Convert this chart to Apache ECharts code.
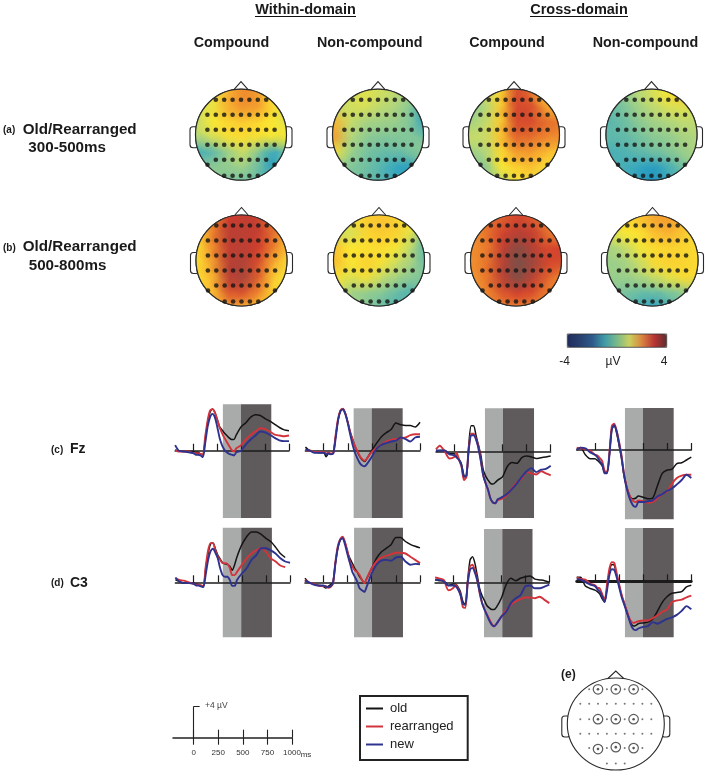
<!DOCTYPE html>
<html><head><meta charset="utf-8">
<style>html,body{margin:0;padding:0;background:#fff}#c{width:709px;height:778px}</style>
<script src="https://cdn.jsdelivr.net/npm/echarts@6/dist/echarts.min.js"></script>
</head><body><div id="c"></div>
<script>
// ---------- ERP sample times (ms) ----------
const timesMs=[-190,-150,-100,-50,0,25,50,75,100,125,150,175,200,225,250,275,300,325,350,375,400,425,450,500,550,600,650,700,750,800,850,900,950,1000];
// ---------- ERP amplitudes (µV), Fz ----------
const fzWC_old=[.1,0,-.1,-.1,-.1,-.2,-.2,-.4,-.5,1.5,3.5,4.8,5.2,4.8,3.9,3.0,2.6,2.2,1.9,1.6,1.4,1.4,2.0,3.0,3.5,4.2,4.5,4.4,4.0,3.7,3.3,2.9,2.6,2.5];
const fzWC_rea=[0,-.1,-.1,-.1,-.3,-.3,-.3,-.4,-.5,1.8,3.8,5.0,5.2,4.8,3.9,2.9,2.2,1.6,1.1,.6,.1,-.1,.3,.7,1.4,2.0,2.4,2.8,2.7,2.4,2.0,1.9,1.8,1.9];
const fzWC_new=[.7,0,-.1,-.2,-.3,-.5,-.5,-.6,-.8,1.0,3.0,4.2,4.6,4.2,3.0,1.6,.7,.1,-.2,-.4,-.5,-.6,-.2,0,.8,1.4,1.9,2.4,2.3,2.0,1.6,1.3,1.2,1.2];
const fzWN_old=[.4,0,-.2,-.3,-.3,-.8,-.4,-.5,-.3,1.8,3.8,5.0,5.2,4.6,3.5,2.3,1.4,.5,-.2,-.8,-1.2,-1.4,-1.0,0,.9,1.7,2.2,2.6,3.4,3.2,3.1,3.1,2.9,3.5];
const fzWN_rea=[0,0,-.2,-.2,-.2,-.4,-.3,-.4,-.3,2,4,5,5.2,4.6,3.5,2.3,1.3,.5,-.1,-.7,-1.1,-1.3,-1.0,-.2,.3,.75,1.1,1.3,1.4,1.5,1.6,1.9,2.0,2.0];
const fzWN_new=[.1,0,-.3,-.3,-.3,-.5,-.4,-.5,-.4,1.6,3.8,4.9,5.1,4.5,3.4,2.0,.7,-.3,-1.0,-1.6,-1.9,-2.0,-1.7,-.8,.2,.7,.9,1.1,1.2,1.6,1.4,1.1,1.6,1.7];
const fzCC_old=[0,.1,.1,-.3,-.3,-.7,-1.0,-1.6,-3.0,-3.3,.8,3.2,3.2,2,.8,-.45,-2.3,-3.1,-3.6,-4,-4.1,-3.9,-3.6,-3.2,-1.9,-1.4,-1.5,-.8,-.6,-.7,-.9,-.8,-.7,-.6];
const fzCC_rea=[.25,.7,0,-.9,-.7,-.2,-1.1,-1.9,-3.6,-3.2,.4,2.2,2.2,1.6,.6,-1.1,-3,-4,-4.8,-5.9,-6.4,-6.5,-6.1,-5.9,-5.4,-4.6,-3.9,-3.4,-2.6,-2.75,-2.9,-2.5,-2.75,-3];
const fzCC_new=[.1,.1,.1,-.4,-.5,-.8,-1.1,-1.8,-3.2,-3.0,.2,2.0,2.0,1.5,.4,-1.2,-3.0,-4,-4.8,-5.9,-6.4,-6.5,-6.0,-5.7,-5.3,-4.7,-4,-3.2,-2.5,-2.1,-2.6,-2.3,-2.2,-1.8];
const fzCN_old=[.1,.3,-.6,-1.1,-1.1,-1.3,-1.6,-2,-2.8,-2.9,-.5,2.6,3.1,2.1,.6,-1,-3.1,-4.4,-5.4,-6,-6.1,-6,-5.75,-5.9,-6.1,-6,-4.4,-2.9,-2.5,-2.4,-1.7,-1.6,-1.25,-.9];
const fzCN_rea=[.3,.2,.1,-.1,-.6,-.7,-1.0,-1.4,-2.6,-2.7,-.3,3.0,3.3,2.4,1,-.6,-2.9,-4.4,-5.4,-6.1,-6.4,-6.5,-6.3,-6.4,-6.6,-6.5,-6,-5.5,-5.2,-4.2,-3.5,-3.2,-3.1,-3.1];
const fzCN_new=[0,.3,.2,-.3,-.6,-.9,-1.4,-1.8,-2.9,-2.9,-.6,2.6,3.1,2.3,.8,-.9,-3,-4.6,-5.7,-6.5,-7,-7.1,-6.5,-6.5,-6.4,-6.3,-5.8,-5.5,-5.1,-4.8,-4.3,-3.75,-3.1,-3.5];
// ---------- ERP amplitudes (µV), C3 ----------
const c3WC_old=[.3,.1,-.1,-.1,-.1,-.2,-.3,-.4,-.5,1.8,3.6,4.8,4.9,4.2,3.4,2.9,2.45,2.3,2.25,2.0,1.5,2.2,3.2,4.7,5.7,6.3,6.3,6.0,5.5,5.1,4.4,3.6,3.1,null];
const c3WC_rea=[.5,.3,.2,0,-.2,-.3,-.3,-.4,-.5,2,4,4.9,4.9,4.0,3.2,2.8,2.4,2.4,2.3,1.8,.9,.9,1.3,2.2,3,3.6,4,4.25,3.8,3,2.6,2.1,1.9,null];
const c3WC_new=[.6,.1,-.1,-.1,-.2,-.4,-.4,-.5,-.6,1.0,2.8,3.9,4.2,3.7,3,1.75,.9,.7,.7,.3,-.45,-.45,.3,1.1,1.75,2.8,3.4,4.25,4.25,4,3.6,3,2.6,2.45];
const c3WN_old=[.5,0,-.2,-.4,-.5,-.7,-.5,-.3,0,2.4,4.25,5.3,5.6,4.9,3.8,3,2.4,1.75,1.3,.7,.3,-.1,.5,1.75,3,3.8,4.25,4.7,5.6,5.6,5.1,4.75,4.5,4.3];
const c3WN_rea=[.3,0,-.2,-.4,-.5,-.5,-.7,-.6,-.2,2.5,4.5,5.4,5.7,5,3.9,2.6,2.0,1.5,1.3,.9,.3,-.1,.5,1.75,2.6,3.1,3.3,3.5,3.7,3.7,3.6,3.2,2.8,2.4];
const c3WN_new=[.2,0,-.3,-.4,-.4,-.5,-.6,-.5,-.1,2.3,4.3,5.3,5.5,4.7,3.5,2.4,1.3,.7,.1,-.75,-1,-1.2,-.5,1.1,2.2,2.7,2.8,2.7,3.1,3.2,2.6,2.2,2.3,2.25];
const c3CC_old=[.3,.2,.2,-.4,-.2,-.2,-.6,-1.2,-2.4,-2.8,.3,2.8,3.2,2.4,.8,-.8,-1.7,-2.3,-2.9,-3.2,-3.4,-3.4,-3.1,-2,-.3,.5,.2,.5,.7,.8,.4,.3,.2,0];
const c3CC_rea=[.6,.5,.3,-1.0,-.7,-.3,-.8,-1.5,-3.1,-3.2,0,2.0,2.2,1.5,.3,-1.4,-2.6,-3.4,-4,-4.6,-5.2,-5.5,-5.2,-4.3,-3.5,-2.8,-2.4,-2.1,-1.9,-1.9,-2,-1.8,-2.2,-2.6];
const c3CC_new=[.3,.3,.1,-.4,-.4,-.5,-.9,-1.6,-2.7,-2.8,-.1,1.6,1.8,1.2,.2,-1.2,-2.6,-3.4,-4.1,-4.8,-5.3,-5.5,-5.2,-4.3,-3.7,-2.6,-2,-1.6,-.5,-.4,-.75,-.75,-.55,-.3];
const c3CN_old=[.5,.5,-.6,-.9,-1.1,-1.3,-1.6,-2.2,-2.6,-.7,1.2,2.1,2.0,.75,-.5,-1.75,-2.6,-3.6,-4.5,-5.3,-5.6,-5.5,-5.3,-5.2,-5.1,-4.7,-3.7,-2.6,-1.9,-1.5,-1.4,-1.3,-.7,-.5];
const c3CN_rea=[.5,.3,.2,-.3,-.5,-.8,-.9,-1.6,-2.4,-.4,1.6,2.4,2.3,1.0,-.3,-1.6,-2.6,-3.5,-4.4,-5.0,-5.2,-5.1,-5,-4.9,-4.9,-4.6,-4.25,-3.8,-3.5,-2.6,-2.4,-2.3,-2,-1.8];
const c3CN_new=[.3,.2,-.1,-.4,-.6,-1,-1.3,-1.9,-2.6,-1.1,.8,1.5,1.4,.5,-.7,-1.9,-2.8,-3.7,-4.6,-5.5,-6,-6.1,-5.9,-5.7,-5.6,-5.1,-5.3,-5,-4.7,-4.5,-4.2,-3.7,-3.1,-3.5];
// ---------- Topographic amplitudes (µV), 7×7 scalp cells, front row first ----------
const topoCellOffsets=[-45,-30,-15,0,15,30,45];
const topoAWC=[[.5,.7,1.6,2.2,2,1,.5],[.3,.6,1.7,2.1,2,1,.5],[.2,.8,1.1,1.3,1.1,.8,.4],[0,.4,.9,1,.9,.8,.8],[-1.5,-1.2,-.4,.3,-.6,-1.6,-.8],[-.6,-.6,-.5,-.3,-.9,-1.9,-1],[-.4,-.5,-.8,-.9,-1,-1.2,-.8]];
const topoAWN=[[.3,.3,.5,.3,.1,-.2,-1],[.1,.3,.4,.1,-.1,-.6,-1.6],[1.6,.2,-.2,-.3,-.4,-.7,-1.8],[2,0,-.5,-.7,-.7,-.7,-.9],[.9,-.3,-.8,-1,-1,-.8,-.5],[-.4,-.7,-.9,-1.2,-1.6,-1.9,-.9],[-.6,-.8,-1,-1.2,-1.5,-1.5,-1]];
const topoACC=[[0,.3,1,3,2.6,1.2,.6],[-.6,-.1,1.2,3,3,1.9,1.2],[-.3,.1,1.2,3,3,2.6,2.4],[.2,.2,1.4,2.7,2.6,2.3,2.2],[-.3,-.1,1,2,2,1.6,1.3],[-.8,-.6,.8,1.2,1.5,1,.6],[-.8,-.7,-.1,.8,1,.4,.2]];
const topoACN=[[-.7,-.5,0,.4,.8,1.4,1.2],[-1.1,-.8,-.3,.1,.4,.5,.3],[-1.2,-1,-.6,-.3,-.1,.1,.1],[-1.1,-1.1,-.9,-.6,-.5,-.2,-.1],[-1.4,-1.3,-1.1,-.9,-.7,-.4,-.1],[-1.3,-1.4,-1.6,-1.9,-1.4,-.9,-.4],[-1.1,-1.4,-1.7,-2.1,-1.6,-1.1,-.7]];
const topoBWC=[[1,2.2,3.2,3.3,3.3,2.4,1],[1.1,2.4,3.4,3.4,3.3,2.6,1.6],[1,2.2,3.3,3.4,3.2,2.4,1.4],[1,2,3.4,3.5,3,1.8,1],[1,1.6,3.4,3.6,2.8,1.3,.7],[1.1,1.5,2.9,3,2.3,1.2,.7],[1.2,1.4,1.8,1.7,1.4,1,.7]];
const topoBWN=[[.3,.8,1.2,1.4,1.2,.8,-.3],[.3,.3,1.1,1.3,1.2,.6,-.8],[1.4,.8,.9,1,.8,.1,-1.3],[1.5,.8,1.2,.9,.3,-.2,-1],[.9,.4,.9,.2,-.2,-.6,-.7],[.5,-.3,-.5,-.6,-1,-1.3,-.9],[.3,-.2,-.6,-1,-1.3,-1.1,-.8]];
const topoBCC=[[2.2,2.6,2.7,3.1,2.8,2.4,2],[2.1,2.5,3.1,3.4,3.3,2.5,2.1],[2.1,2.4,3.3,3.9,3.4,3,3.1],[2.1,2.5,3.4,4,3.7,3.1,3],[2,2.5,3.4,4,3.4,2.7,2.2],[1.9,2.3,2.9,3.2,3,2.4,2],[1.9,2,2.2,2.3,2.2,2,1.7]];
const topoBCN=[[.6,1,1.4,1.8,2,1.6,.8],[.4,.8,.9,1.5,1.7,1.3,.7],[-.2,.1,.7,1,1.1,1.1,1],[-.4,-.3,.2,1,1.2,1.1,1],[-.4,-.4,-.2,.2,.6,1,1],[-.6,-.8,-1,-1,-.8,-.5,0],[-.6,-1,-1.4,-1.8,-1.4,-.8,-.4]];
// ---------- Electrodes ----------
const electrodeColumns=[-33.6,-25.2,-16.8,-8.4,0,8.4,16.8,25.2,33.6];
const electrodeRows=[-35,-20,-5,10,25,41];
const electrodeRowSpans=[[1,7],[0,8],[0,8],[0,8],[1,7],[2,6]];
const electrodeEdge=[[-33.5,30],[33.5,30]];
const keyColumns=[-35.5,-26.6,-17.8,-8.9,0,8.9,17.8,26.6,35.5];
const keyRows=[-36,-21,-5,10,25,41];
const keyRowSpans=[[1,7],[0,8],[0,8],[0,8],[1,7],[3,5]];
const keyHighlighted=[[-17.8,-36],[0,-36],[17.8,-36],[-17.8,-5],[0,-5],[17.8,-5],[-17.8,26],[0,24],[17.8,25]];
// ---------- Labels & scales ----------
const seriesNames=['old','rearranged','new'];
const seriesColors=['#141414','#d3343c','#2e338f'];
const heatColors=['#1d2a6b','#1f4a92','#1088c2','#35a7bf','#7cc49c','#b8d878','#fbe830','#f9b530','#ea7a2c','#cf3a2d','#7a5048'];
const barColors=['#1f2c5c','#28406f','#2c5a8a','#3f9aa8','#7bb98a','#c9cf5e','#d9843f','#b83535','#5f2c2e'];
const toMicroV=8;

// ---------- Layout ----------
const heads=[
 {m:topoAWC,cx:241,cy:134.7},{m:topoAWN,cx:378,cy:134.7},{m:topoACC,cx:514,cy:134.7},{m:topoACN,cx:651.5,cy:134.7},
 {m:topoBWC,cx:241.5,cy:260.5},{m:topoBWN,cx:379,cy:260.5},{m:topoBCC,cx:516,cy:260.5},{m:topoBCN,cx:652.5,cy:260.5}];
const erp=[
 {d:[fzWC_old,fzWC_rea,fzWC_new],x0:193.3,x1:289,ax:450.7,top:404.3,bot:518,band:[309,497,815]},
 {d:[fzWN_old,fzWN_rea,fzWN_new],x0:323.7,x1:420,ax:450.3,top:408.3,bot:518,band:[311,498,820]},
 {d:[fzCC_old,fzCC_rea,fzCC_new],x0:454.3,x1:550.7,ax:451.3,top:408.3,bot:518,band:[318,505,827]},
 {d:[fzCN_old,fzCN_rea,fzCN_new],x0:595,x1:691.3,ax:450,top:408,bot:519.3,band:[311,498,817]},
 {d:[c3WC_old,c3WC_rea,c3WC_new],x0:193.7,x1:290,ax:582.3,top:527.7,bot:637.3,band:[302,493,812]},
 {d:[c3WN_old,c3WN_rea,c3WN_new],x0:323.3,x1:420,ax:582.3,top:527.7,bot:637.3,band:[318,504,824]},
 {d:[c3CC_old,c3CC_rea,c3CC_new],x0:453.3,x1:549.3,ax:582.3,top:529,bot:637.3,band:[320,510,825]},
 {d:[c3CN_old,c3CN_rea,c3CN_new],x0:595,x1:691.3,ax:581.3,top:528,bot:637.3,band:[311,498,817],thick:true}];

const grids=[],xAxes=[],yAxes=[],series=[],headSeriesIdx=[];
const blobR=19;
function addHeadAxes(cx,cy){
  grids.push({left:cx-56,top:cy-56,width:112,height:112,show:false});
  const g=grids.length-1;
  xAxes.push({gridIndex:g,type:'value',min:-56,max:56,show:false});
  yAxes.push({gridIndex:g,type:'value',min:-56,max:56,inverse:true,show:false});
  return g;
}
function outlineSeries(g,rx,ry,noseH,noseW){
  return {type:'custom',xAxisIndex:g,yAxisIndex:g,z:4,silent:true,data:[[0,0]],clip:false,
    renderItem(p,api){
      const c=api.coord([0,0]);
      const st={fill:null,stroke:'#2a2a2a',lineWidth:1.1};
      const earW=5.5,earH=21,earY=c[1]-8;
      return {type:'group',children:[
        {type:'rect',shape:{x:c[0]-rx-earW,y:earY,width:earW+3,height:earH,r:3},style:{fill:'#fff',stroke:'#2a2a2a',lineWidth:1.1}},
        {type:'rect',shape:{x:c[0]+rx-3,y:earY,width:earW+3,height:earH,r:3},style:{fill:'#fff',stroke:'#2a2a2a',lineWidth:1.1}},
        {type:'polyline',shape:{points:[[c[0]-noseW,c[1]-ry+1.5],[c[0],c[1]-ry-noseH],[c[0]+noseW,c[1]-ry+1.5]]},style:st},
        {type:'ellipse',shape:{cx:c[0],cy:c[1],rx:rx,ry:ry},style:{fill:'#fff',stroke:'#2a2a2a',lineWidth:1.1}}
      ]};
    }};
}
heads.forEach(h=>{
  const g=addHeadAxes(h.cx,h.cy);
  const R=45.5;
  const cells=[];
  h.m.forEach((row,r)=>row.forEach((v,c)=>cells.push([topoCellOffsets[c],topoCellOffsets[r],v])));
  const clip=(cc)=>({type:'circle',shape:{cx:cc[0],cy:cc[1],r:R}});
  const base=outlineSeries(g,R,R,7.5,8);
  base.z=1;
  series.push(base);
  headSeriesIdx.push(series.length);
  series.push({type:'custom',xAxisIndex:g,yAxisIndex:g,z:2,silent:true,clip:false,data:cells,
    encode:{x:0,y:1},
    renderItem(p,api){
      const c=api.coord([api.value(0),api.value(1)]),o=api.coord([0,0]);
      return {type:'rect',shape:{x:c[0]-8,y:c[1]-8,width:16,height:16},style:{fill:api.visual('color')},clipPath:clip(o)};
    }});
  [cells,cells.slice().reverse()].forEach(list=>{
    headSeriesIdx.push(series.length);
    series.push({type:'custom',xAxisIndex:g,yAxisIndex:g,z:2,silent:true,clip:false,data:list,
      encode:{x:0,y:1},
      renderItem(p,api){
        const c=api.coord([api.value(0),api.value(1)]),o=api.coord([0,0]);
        const col=api.visual('color');
        return {type:'circle',shape:{cx:c[0],cy:c[1],r:blobR},
          style:{fill:{type:'radial',x:.5,y:.5,r:.5,colorStops:[
            {offset:0,color:echarts.color.modifyAlpha(col,.85)},
            {offset:.45,color:echarts.color.modifyAlpha(col,.45)},
            {offset:1,color:echarts.color.modifyAlpha(col,0)}]}},
          clipPath:clip(o)};
      }});
  });
  series.push({type:'custom',xAxisIndex:g,yAxisIndex:g,z:3,silent:true,clip:false,data:[[0,0]],
    renderItem(p,api){
      const c=api.coord([0,0]);
      return {type:'circle',shape:{cx:c[0],cy:c[1],r:R},style:{fill:null,stroke:'#2a2a2a',lineWidth:1.2}};
    }});
  const pts=[];
  electrodeRows.forEach((y,i)=>{
    const [a,b]=electrodeRowSpans[i];
    for(let k=a;k<=b;k++)pts.push([electrodeColumns[k],y]);
  });
  electrodeEdge.forEach(p=>pts.push(p));
  series.push({type:'scatter',xAxisIndex:g,yAxisIndex:g,z:5,silent:true,clip:false,symbolSize:4.6,data:pts,itemStyle:{color:'#151515'}});
});

// Electrode key (e)
{
  const g=addHeadAxes(615.8,726);
  series.push(outlineSeries(g,48.5,46,7,9));
  const pts=[];
  keyRows.forEach((y,i)=>{
    const [a,b]=keyRowSpans[i];
    for(let k=a;k<=b;k++)pts.push([keyColumns[k],y]);
  });
  series.push({type:'scatter',xAxisIndex:g,yAxisIndex:g,z:5,silent:true,clip:false,symbolSize:2,data:pts,itemStyle:{color:'#555'}});
  series.push({type:'scatter',xAxisIndex:g,yAxisIndex:g,z:6,silent:true,clip:false,symbolSize:9.5,data:keyHighlighted,itemStyle:{color:'#fff',borderColor:'#333',borderWidth:1.2}});
  series.push({type:'scatter',xAxisIndex:g,yAxisIndex:g,z:7,silent:true,clip:false,symbolSize:2.6,data:keyHighlighted,itemStyle:{color:'#333'}});
}

// ERP panels
erp.forEach(p=>{
  const k=(p.x1-p.x0)/1000;
  const left=p.x0-190*k;
  grids.push({left:left,top:p.top,width:p.x1-left,height:p.bot-p.top,show:false});
  const g=grids.length-1;
  xAxes.push({gridIndex:g,type:'value',min:-190,max:1000,z:5,
    axisLine:{onZero:true,lineStyle:{color:'#1c1c1c',width:p.thick?2.8:1.5}},
    axisTick:{show:true,inside:true,length:7,customValues:[0,250,500,750,1000],lineStyle:{color:'#1c1c1c',width:1.2}},
    axisLabel:{show:false},splitLine:{show:false}});
  yAxes.push({gridIndex:g,type:'value',min:-(p.bot-p.ax)/toMicroV,max:(p.ax-p.top)/toMicroV,show:false});
  series.push({type:'line',xAxisIndex:g,yAxisIndex:g,z:1,silent:true,data:[],
    markArea:{silent:true,data:[
      [{xAxis:p.band[0],itemStyle:{color:'#a9aaaa'}},{xAxis:p.band[1]}],
      [{xAxis:p.band[1],itemStyle:{color:'#5f5a5b'}},{xAxis:p.band[2]}]]}});
  p.d.forEach((vals,i)=>{
    series.push({name:seriesNames[i],type:'line',xAxisIndex:g,yAxisIndex:g,z:6+i,silent:true,symbol:'none',smooth:.25,
      connectNulls:false,lineStyle:{color:seriesColors[i],width:i===0?1.5:1.9},itemStyle:{color:seriesColors[i]},
      data:timesMs.map((t,j)=>[t,vals[j]])});
  });
});

// Scale key
{
  grids.push({left:173,top:706.7,width:119,height:31,show:false});
  const g=grids.length-1;
  const ticks=[0,250,500,750,1000];
  const al={lineStyle:{color:'#222',width:1.5}};
  xAxes.push({gridIndex:g,type:'value',min:-210,max:1000,position:'bottom',axisLine:al,
    axisTick:{show:true,inside:true,length:8,customValues:ticks,lineStyle:{color:'#222',width:1.1}},
    axisLabel:{show:false},splitLine:{show:false}});
  xAxes.push({gridIndex:g,type:'value',min:-210,max:1000,position:'bottom',axisLine:{show:false},
    axisTick:{show:true,inside:false,length:7,customValues:ticks,lineStyle:{color:'#222',width:1.1}},
    axisLabel:{show:true,customValues:ticks,margin:11,fontSize:8,color:'#333',fontFamily:'Liberation Sans',formatter:v=>String(v)},splitLine:{show:false}});
  yAxes.push({gridIndex:g,type:'value',min:0,max:4,axisLine:{show:true,onZero:true,lineStyle:{color:'#222',width:1.1}},
    axisTick:{show:true,inside:true,length:6,customValues:[4],lineStyle:{color:'#222',width:1}},
    axisLabel:{show:false},splitLine:{show:false}});
  series.push({name:'colorbar',type:'scatter',xAxisIndex:xAxes.length-2,yAxisIndex:yAxes.length-1,data:[]});
}
const barSeriesIdx=series.length-1;

const FONT='"Liberation Sans",Arial,sans-serif';
function T(text,x,y,size,bold,align,fill){
  return {type:'text',silent:true,z:20,style:{text,x,y,font:(bold?'bold ':'')+size+'px '+FONT,fill:fill||'#1a1a1a',align:align||'left',verticalAlign:'middle'}};
}
function L(x1,y1,x2,y2,w,c){return {type:'line',silent:true,z:20,shape:{x1,y1,x2,y2},style:{stroke:c||'#111',lineWidth:w||1}};}
const graphics=[
  T('Within-domain',305.5,10,14.5,true,'center'),L(255,16.5,356,16.5,1),
  T('Cross-domain',579,10,14.5,true,'center'),L(530,16.5,628,16.5,1),
  T('Compound',231.5,43,14.3,true,'center'),T('Non-compound',369.7,43,14.3,true,'center'),
  T('Compound',507,43,14.3,true,'center'),T('Non-compound',645.5,43,14.3,true,'center'),
  T('(a)',3,130.5,10,true),T('Old/Rearranged',22.7,129.5,15.2,true),T('300-500ms',28.3,148,15.2,true),
  T('(b)',3,248,10,true),T('Old/Rearranged',22.7,247,15.2,true),T('500-800ms',28.7,266,15.2,true),
  T('(c)',51,450,10,true),T('Fz',70,449,14,true),
  T('(d)',51,583,10,true),T('C3',70,583,14,true),
  T('(e)',561,675,12,true),
  T('-4',564.6,362,12,false,'center','#222'),T('µV',613,362,12,false,'center','#222'),T('4',664,362,12,false,'center','#222'),
  T('ms',300.7,755,8,false,'left','#333'),T('+4 µV',205,706,8.5,false,'left','#444'),
  {type:'rect',silent:true,z:18,shape:{x:567.3,y:334,width:99.4,height:13.3},style:{fill:null,stroke:'#333',lineWidth:.8}},
  {type:'rect',silent:true,z:18,shape:{x:360,y:696,width:107.7,height:64},style:{fill:null,stroke:'#222',lineWidth:2}}
];

const chart=echarts.init(document.getElementById('c'),null,{renderer:'canvas'});
chart.setOption({
  animation:false,backgroundColor:'#fff',
  grid:grids,xAxis:xAxes,yAxis:yAxes,series,graphic:graphics,
  legend:{left:366,top:702,orient:'vertical',data:seriesNames,icon:'rect',itemWidth:17,itemHeight:2,itemGap:5,padding:0,selectedMode:false,
    textStyle:{fontFamily:FONT,fontSize:13,color:'#222',padding:[0,0,0,2]}},
  visualMap:[
    {type:'continuous',show:false,min:-4,max:4,dimension:2,seriesIndex:headSeriesIdx,inRange:{color:heatColors}},
    {type:'continuous',show:true,min:-4,max:4,orient:'horizontal',left:567.3,top:334,itemWidth:13.3,itemHeight:99.4,padding:0,calculable:false,realtime:false,text:['',''],showLabel:false,seriesIndex:[barSeriesIdx],inRange:{color:barColors}}
  ]
});
</script></body></html>
